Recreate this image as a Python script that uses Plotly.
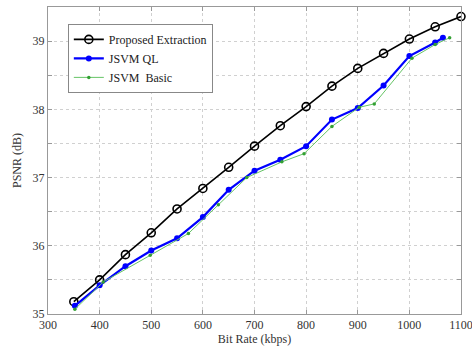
import plotly.graph_objects as go

# Data
prop_x = [350, 400, 450, 500, 550, 600, 650, 700, 750, 800, 850, 900, 950, 1000, 1050, 1100]
prop_y = [35.18, 35.50, 35.87, 36.19, 36.54, 36.84, 37.15, 37.46, 37.76, 38.04, 38.34, 38.60, 38.82, 39.03, 39.21, 39.36]

ql_x = [352, 400, 450, 500, 550, 600, 650, 700, 750, 800, 850, 900, 950, 1000, 1050, 1065]
ql_y = [35.12, 35.42, 35.70, 35.93, 36.11, 36.42, 36.82, 37.10, 37.26, 37.46, 37.85, 38.02, 38.35, 38.78, 38.98, 39.05]

basic_x = [352, 407, 498, 572, 630, 685, 753, 796, 850, 903, 932, 1005, 1050, 1078]
basic_y = [35.07, 35.47, 35.86, 36.18, 36.60, 37.00, 37.23, 37.35, 37.75, 38.03, 38.08, 38.75, 38.95, 39.05]

x_ticks = [300, 400, 500, 600, 700, 800, 900, 1000, 1100]
y_ticks = [35, 35.5, 36, 36.5, 37, 37.5, 38, 38.5, 39, 39.5]
y_ticktext = ["35", "", "36", "", "37", "", "38", "", "39", ""]

fig = go.Figure()
fig.add_trace(go.Scatter(
    x=prop_x, y=prop_y, name="Proposed Extraction", mode="lines+markers",
    line=dict(color="black", width=1.6), cliponaxis=False,
    marker=dict(symbol="circle-open", size=8, color="black", line=dict(width=1.6)),
))
fig.add_trace(go.Scatter(
    x=ql_x, y=ql_y, name="JSVM QL", mode="lines+markers",
    line=dict(color="#0000ff", width=2.2), cliponaxis=False,
    marker=dict(symbol="circle", size=6, color="#0000ff"),
))
fig.add_trace(go.Scatter(
    x=basic_x, y=basic_y, name="JSVM  Basic", mode="lines+markers",
    line=dict(color="#66c466", width=1), cliponaxis=False,
    marker=dict(symbol="circle", size=3.5, color="#33a033"),
))

font_serif = dict(family="Liberation Serif", size=12, color="#333333")

axis_common = dict(
    showline=True, linecolor="#999999", linewidth=1, mirror="ticks",
    ticks="inside", ticklen=4, tickcolor="#999999",
    showgrid=True, gridcolor="#d0d0d0", griddash="dot", gridwidth=1,
    zeroline=False, automargin=False, ticklabeloverflow="allow",
    tickfont=font_serif,
)

fig.update_xaxes(range=[299.99, 1100.01], tickvals=x_ticks,
                 title=dict(text="Bit Rate (kbps)", font=font_serif, standoff=2),
                 **axis_common)
fig.update_yaxes(range=[35, 39.5], tickvals=y_ticks, ticktext=y_ticktext,
                 title=dict(text="PSNR (dB)", font=font_serif, standoff=8),
                 **axis_common)

fig.update_layout(
    width=472, height=350,
    margin=dict(l=48, r=11, t=7, b=36),
    paper_bgcolor="white", plot_bgcolor="white",
    showlegend=True,
    legend=dict(
        x=0.048, y=0.945, xanchor="left", yanchor="top",
        bgcolor="white", bordercolor="#888888", borderwidth=1,
        font=dict(family="Liberation Serif", size=12, color="#222222"),
        tracegroupgap=0, itemwidth=30,
    ),
)

fig.write_html("out.html", config={"displayModeBar": False},
               post_script="document.body.style.margin='0';")
